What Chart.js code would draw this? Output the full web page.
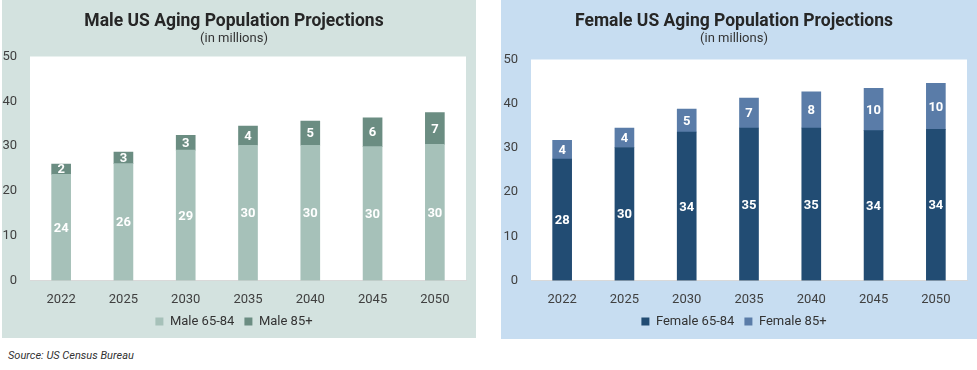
<!DOCTYPE html>
<html><head><meta charset="utf-8">
<script src="https://cdn.jsdelivr.net/npm/chart.js@4"></script>
<style>
html,body{margin:0;padding:0;background:#fff;width:977px;height:370px;overflow:hidden;font-family:Roboto,sans-serif}
.panel{position:absolute;top:0}
#pm{left:2px;width:474px;height:338px;background:#d3e2df}
#pf{left:501px;width:476px;height:339px;background:#c7ddf1}
#src{position:absolute;left:8px;top:349px;font:italic 11px Roboto,sans-serif;color:#333}
</style></head><body>
<div class="panel" id="pm"><canvas id="cm"></canvas></div>
<div class="panel" id="pf"><canvas id="cf"></canvas></div>
<div id="src">Source: US Census Bureau</div>
<script>
const years = ['2022','2025','2030','2035','2040','2045','2050'];
const male6584 = [23.7, 26.1, 29.1, 30.2, 30.2, 29.9, 30.4];
const male85 = [2.3, 2.6, 3.3, 4.3, 5.4, 6.4, 7.1];
const female6584 = [27.5, 30.1, 33.6, 34.5, 34.5, 33.9, 34.2];
const female85 = [4.2, 4.4, 5.2, 6.8, 8.2, 9.6, 10.4];
const yTicks = [0, 10, 20, 30, 40, 50];

const areaBg = {id:'areaBg', beforeDraw(chart){
  const {ctx, chartArea:a} = chart;
  ctx.save(); ctx.fillStyle = '#fff';
  ctx.fillRect(a.left, a.top, a.right - a.left, a.bottom - a.top);
  ctx.restore();
}};
const barLabels = {id:'barLabels', afterDatasetsDraw(chart){
  const ctx = chart.ctx;
  ctx.save();
  ctx.fillStyle = '#fff';
  ctx.font = 'bold 13px Roboto, sans-serif';
  ctx.textAlign = 'center';
  ctx.textBaseline = 'middle';
  chart.data.datasets.forEach((ds, i) => {
    chart.getDatasetMeta(i).data.forEach((bar, j) => {
      ctx.fillText(String(Math.round(ds.data[j])), bar.x, (bar.y + bar.base) / 2 + 1);
    });
  });
  ctx.restore();
}};

function makeChart(id, title, names, series, colors, subPadBottom, padBottom, yWidth){
  return new Chart(document.getElementById(id), {
    type: 'bar',
    data: {
      labels: years,
      datasets: series.map((d, i) => ({
        label: names[i], data: d, backgroundColor: colors[i],
        borderWidth: 0, barThickness: 19, stack: 's'
      }))
    },
    options: {
      responsive: true, maintainAspectRatio: false, animation: false,
      layout: {padding: {left: 0, right: 10, top: 0, bottom: padBottom}},
      plugins: {
        title: {display: true, text: title, color: '#262626',
          font: {family: 'Roboto', size: 17.5, weight: 'bold', lineHeight: 1},
          padding: {top: 13, bottom: 0}},
        subtitle: {display: true, text: '(in millions)', color: '#333',
          font: {family: 'Roboto', size: 13, lineHeight: 1},
          padding: {top: 2, bottom: subPadBottom}},
        legend: {position: 'bottom',
          labels: {boxWidth: 8, boxHeight: 8, padding: 10, color: '#333',
            font: {family: 'Roboto', size: 13}}},
        tooltip: {enabled: false}
      },
      scales: {
        x: {stacked: true, grid: {display: false, drawTicks: false},
          afterFit(s){ s.height = 24.4; },
          border: {display: true, color: '#d9d9d9'},
          ticks: {padding: 11, color: '#404040', font: {family: 'Roboto', size: 13}}},
        y: {stacked: true, min: 0, max: 50,
          afterFit(s){ s.width = yWidth; },
          afterBuildTicks(s){ s.ticks = yTicks.map(v => ({value: v})); },
          grid: {display: false, drawTicks: false}, border: {display: false},
          ticks: {padding: 13, color: '#404040', font: {family: 'Roboto', size: 13}}}
      }
    },
    plugins: [areaBg, barLabels]
  });
}

makeChart('cm', 'Male US Aging Population Projections', ['Male 65-84', 'Male 85+'],
  [male6584, male85], ['#a6c1b9', '#6b8d82'], 11, 0, 28);
makeChart('cf', 'Female US Aging Population Projections', ['Female 65-84', 'Female 85+'],
  [female6584, female85], ['#224c73', '#5a7ca8'], 14, 1, 30);
</script>
</body></html>
